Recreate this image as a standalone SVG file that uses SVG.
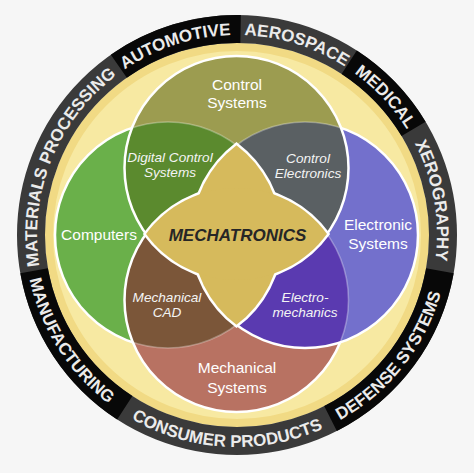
<svg xmlns="http://www.w3.org/2000/svg" width="474" height="473" viewBox="0 0 474 473">
<defs>
<style>
.ring{fill:none;stroke-width:28}
.rt{font-family:"Liberation Sans",Arial,sans-serif;font-weight:bold;font-size:17px;fill:#ebebeb;text-anchor:middle}
.lbl{font-family:"Liberation Sans",Arial,sans-serif;font-size:15.5px;fill:#fff;text-anchor:middle}
.it{font-family:"Liberation Sans",Arial,sans-serif;font-size:13.6px;font-style:italic;fill:#f4f4f4;text-anchor:middle}
.edge{fill:none;stroke:#fff;stroke-width:2.5}
.faint{fill:none;stroke:#fff;stroke-opacity:.3;stroke-width:1.6}
.star{fill:#d6ba5c}
.starEdge{fill:none;stroke:#fff;stroke-width:5}
</style>
<circle id="cL" cx="168" cy="235" r="113"/>
<circle id="cR" cx="305" cy="235" r="113"/>
<circle id="cT" cx="236.5" cy="168" r="112"/>
<circle id="cB" cx="236.5" cy="300" r="112"/>
<clipPath id="kT"><circle cx="236.5" cy="168" r="112"/></clipPath>
<clipPath id="kB"><circle cx="236.5" cy="300" r="112"/></clipPath>
<clipPath id="kR"><circle cx="305" cy="235" r="113"/></clipPath>
<path id="lensLR" d="M236.5 145.13A113 113 0 0 0 236.5 324.87A113 113 0 0 0 236.5 145.13Z"/>
<path id="lensTB" d="M146.01 234A112 112 0 0 1 326.99 234A112 112 0 0 1 146.01 234Z"/>
<path id="topArc" d="M237 435A200 200 0 1 1 237 35A200 200 0 1 1 237 435"/>
<path id="botArc" d="M237 23A212 212 0 1 0 237 447A212 212 0 1 0 237 23"/>
</defs>
<rect width="474" height="473" fill="#f6f6f6"/>
<g id="application-ring">
<circle cx="237" cy="235" r="192" fill="#f7e9a2"/>
<circle cx="237" cy="235" r="188" fill="none" stroke="#f1da84" stroke-width="8"/>
<circle class="ring" cx="237" cy="235" r="206" stroke="#3a3a3a"/>
<path class="ring" stroke="#080808" d="M349.19 62.23A206 206 0 0 1 413.58 128.91M439.87 270.76A206 206 0 0 1 330.52 418.55M124.81 407.77A206 206 0 0 1 34.13 270.76M118.84 66.24A206 206 0 0 1 240.59 29.03"/>
<text class="rt"><textPath href="#topArc" startOffset="45%">AUTOMOTIVE</textPath></text>
<text class="rt"><textPath href="#topArc" startOffset="54.83%">AEROSPACE</textPath></text>
<text class="rt"><textPath href="#topArc" startOffset="63.06%">MEDICAL</textPath></text>
<text class="rt"><textPath href="#topArc" startOffset="72.22%">XEROGRAPHY</textPath></text>
<text class="rt"><textPath href="#topArc" startOffset="31.11%">MATERIALS PROCESSING</textPath></text>
<text class="rt"><textPath href="#botArc" startOffset="64.33%">DEFENSE SYSTEMS</textPath></text>
<text class="rt"><textPath href="#botArc" startOffset="49.17%">CONSUMER PRODUCTS</textPath></text>
<text class="rt"><textPath href="#botArc" startOffset="34%">MANUFACTURING</textPath></text>
</g>
<g id="computers">
<use href="#cL" fill="#6ab04a"/>
<use href="#cL" class="edge"/>
</g>
<g id="mechanical-systems">
<use href="#cB" fill="#b87262"/>
<g id="mechanical-cad">
<use href="#cL" fill="#7b5639" clip-path="url(#kB)"/>
<use href="#cL" class="faint" clip-path="url(#kB)"/>
</g>
<use href="#cB" class="edge"/>
</g>
<g id="electronic-systems">
<use href="#cR" fill="#7370cc"/>
<g id="electro-mechanics">
<use href="#cB" fill="#5a3ab0" clip-path="url(#kR)"/>
<use href="#cB" class="faint" clip-path="url(#kR)"/>
</g>
<use href="#cR" class="edge"/>
</g>
<g id="control-systems">
<use href="#cT" fill="#9c9c50"/>
<g id="digital-control-systems">
<use href="#cL" fill="#5b8a2e" clip-path="url(#kT)"/>
<use href="#cL" class="faint" clip-path="url(#kT)"/>
</g>
<g id="control-electronics">
<use href="#cR" fill="#5a6063" clip-path="url(#kT)"/>
<use href="#cR" class="faint" clip-path="url(#kT)"/>
</g>
<use href="#cT" class="edge"/>
</g>
<g id="mechatronics">
<use href="#lensLR" class="starEdge"/>
<use href="#lensTB" class="starEdge"/>
<use href="#lensLR" class="star"/>
<use href="#lensTB" class="star"/>
<text x="237.5" y="241" font-family="Liberation Sans, Arial, sans-serif" font-size="17" font-weight="bold" font-style="italic" fill="#262626" text-anchor="middle">MECHATRONICS</text>
</g>
<g id="labels">
<text class="lbl" x="237" y="90">Control</text>
<text class="lbl" x="237" y="108">Systems</text>
<text class="lbl" x="99" y="240">Computers</text>
<text class="lbl" x="378" y="230">Electronic</text>
<text class="lbl" x="378" y="249">Systems</text>
<text class="lbl" x="237" y="373">Mechanical</text>
<text class="lbl" x="237" y="393">Systems</text>
<text class="it" x="170" y="162">Digital Control</text>
<text class="it" x="170" y="177">Systems</text>
<text class="it" x="308" y="162.5">Control</text>
<text class="it" x="308" y="177.5">Electronics</text>
<text class="it" x="167" y="302">Mechanical</text>
<text class="it" x="167" y="317">CAD</text>
<text class="it" x="305" y="302">Electro-</text>
<text class="it" x="305" y="317">mechanics</text>
</g>
<g id="connectors"/>
</svg>
